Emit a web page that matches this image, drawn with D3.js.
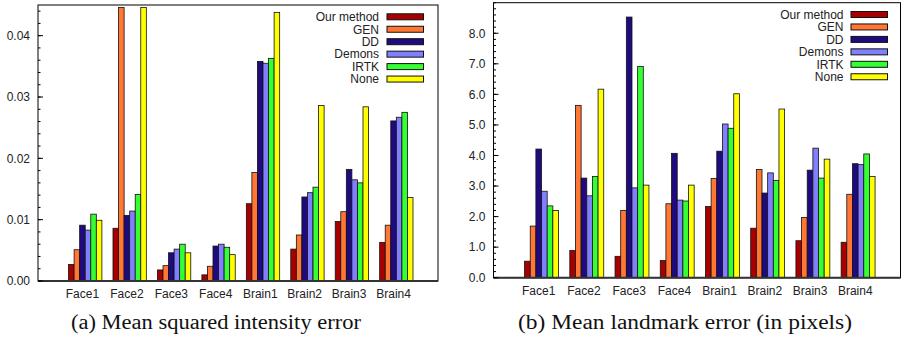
<!DOCTYPE html>
<html><head><meta charset="utf-8">
<script src="https://cdn.jsdelivr.net/npm/d3@7"></script>
<style>
html,body{margin:0;padding:0;background:#fff;}
svg{display:block;}
</style></head>
<body>
<svg id="c" width="902" height="337"></svg>
<script>
const categories = ["Face1","Face2","Face3","Face4","Brain1","Brain2","Brain3","Brain4"];
const seriesNames = ["Our method","GEN","DD","Demons","IRTK","None"];
const seriesColors = ["#a80000","#ff7733","#200a80","#8080ff","#33ff33","#ffff00"];

// (a) Mean squared intensity error
const msieOurs   = [0.0027,0.0086,0.0018,0.0010,0.0126,0.0052,0.0097,0.0063];
const msieGEN    = [0.0051,0.0446,0.0025,0.0024,0.0177,0.0075,0.0113,0.0091];
const msieDD     = [0.0091,0.0107,0.0046,0.0057,0.0358,0.0137,0.0182,0.0261];
const msieDemons = [0.0083,0.0114,0.0052,0.0060,0.0355,0.0144,0.0165,0.0267];
const msieIRTK   = [0.0109,0.0141,0.0060,0.0055,0.0363,0.0153,0.0160,0.0275];
const msieNone   = [0.0099,0.0446,0.0046,0.0043,0.0438,0.0286,0.0284,0.0136];

// (b) Mean landmark error (pixels)
const mleOurs   = [0.54,0.89,0.70,0.56,2.33,1.62,1.21,1.16];
const mleGEN    = [1.69,5.64,2.20,2.42,3.25,3.54,1.97,2.73];
const mleDD     = [4.21,3.26,8.53,4.07,4.14,2.77,3.52,3.73];
const mleDemons = [2.83,2.68,2.94,2.54,5.03,3.43,4.24,3.70];
const mleIRTK   = [2.35,3.31,6.91,2.51,4.89,3.18,3.26,4.05];
const mleNone   = [2.20,6.17,3.03,3.03,6.02,5.52,3.88,3.31];

const leftTicks  = [0, 0.01, 0.02, 0.03, 0.04];
const rightTicks = [0,1,2,3,4,5,6,7,8];

const captionA = "(a) Mean squared intensity error";
const captionB = "(b) Mean landmark error (in pixels)";

const svg = d3.select("#c");
const sans = "'Liberation Sans', Arial, Helvetica, sans-serif";

function drawChart(cfg){
  const g = svg.append("g");
  const x = d3.scaleLinear().domain([-1, 8]).range([cfg.x0, cfg.x1]);
  const y = d3.scaleLinear().domain([0, cfg.ymax]).range([cfg.y1, cfg.y0]);
  const unit = x(1) - x(0);
  const bw = unit / 8;

  // bars
  cfg.series.forEach((vals, k) => {
    g.append("g").selectAll("rect").data(vals).join("rect")
      .attr("x", (d,i) => x(i) + (k - 2.5) * bw)
      .attr("width", bw)
      .attr("y", d => y(d))
      .attr("height", d => y(0) - y(d))
      .attr("fill", seriesColors[k])
      .attr("stroke", "#111")
      .attr("stroke-width", 0.8);
  });

  // frame
  g.append("rect").attr("x", cfg.x0).attr("y", cfg.y0)
    .attr("width", cfg.x1 - cfg.x0).attr("height", cfg.y1 - cfg.y0)
    .attr("fill", "none").attr("stroke", "#000").attr("stroke-width", 1);
  // zero line
  g.append("line").attr("x1", cfg.x0).attr("x2", cfg.x1)
    .attr("y1", y(0)).attr("y2", y(0))
    .attr("stroke", "#333").attr("stroke-width", 2);

  // y axis ticks (inward)
  const minor = d3.range(0, cfg.ymax + cfg.minorStep/2, cfg.minorStep);
  g.append("g").selectAll("line").data(minor).join("line")
    .attr("x1", cfg.x0).attr("x2", cfg.x0 + 2.5)
    .attr("y1", d => y(d)).attr("y2", d => y(d))
    .attr("stroke", "#000").attr("stroke-width", 1);
  g.append("g").selectAll("line").data(cfg.ticks).join("line")
    .attr("x1", cfg.x0).attr("x2", cfg.x0 + 5)
    .attr("y1", d => y(d)).attr("y2", d => y(d))
    .attr("stroke", "#000").attr("stroke-width", 1);
  g.append("g").selectAll("text").data(cfg.ticks).join("text")
    .attr("x", cfg.x0 - 8).attr("y", d => y(d) + 4.3)
    .attr("text-anchor", "end")
    .attr("font-family", sans).attr("font-size", 12).attr("fill", "#222")
    .text(d => d3.format(cfg.fmt)(d));

  // x labels
  g.append("g").selectAll("text").data(categories).join("text")
    .attr("x", (d,i) => x(i)).attr("y", cfg.y1 + 17)
    .attr("text-anchor", "middle")
    .attr("font-family", sans).attr("font-size", 12).attr("fill", "#222")
    .text(d => d);

  // legend
  const lg = g.append("g");
  seriesNames.forEach((name, k) => {
    const cy = cfg.legTop + k * 12.45;
    lg.append("text").attr("x", cfg.legTextX).attr("y", cy + 4.3)
      .attr("text-anchor", "end")
      .attr("font-family", sans).attr("font-size", 12).attr("fill", "#222")
      .text(name);
    lg.append("rect").attr("x", cfg.legBoxX).attr("y", cy - 3)
      .attr("width", 36.5).attr("height", 6)
      .attr("fill", seriesColors[k]).attr("stroke", "#111").attr("stroke-width", 1);
  });

  // caption
  g.append("text").attr("x", cfg.capX).attr("y", 329)
    .attr("font-family", "'Liberation Serif', 'DejaVu Serif', serif")
    .attr("font-size", 20).attr("fill", "#111")
    .attr("textLength", cfg.capW).attr("lengthAdjust", "spacingAndGlyphs")
    .text(cfg.caption);
}

drawChart({
  x0: 38, x1: 438, y0: 5, y1: 281, ymax: 0.045, minorStep: 0.002,
  ticks: leftTicks, fmt: ".2f",
  series: [msieOurs, msieGEN, msieDD, msieDemons, msieIRTK, msieNone],
  legTop: 16.8, legTextX: 379, legBoxX: 387,
  caption: captionA, capX: 71, capW: 290
});
drawChart({
  x0: 493.5, x1: 900.5, y0: 2.7, y1: 277.7, ymax: 9, minorStep: 0.2,
  ticks: rightTicks, fmt: ".1f",
  series: [mleOurs, mleGEN, mleDD, mleDemons, mleIRTK, mleNone],
  legTop: 14.5, legTextX: 843.5, legBoxX: 851,
  caption: captionB, capX: 518, capW: 334
});
</script>
</body></html>
